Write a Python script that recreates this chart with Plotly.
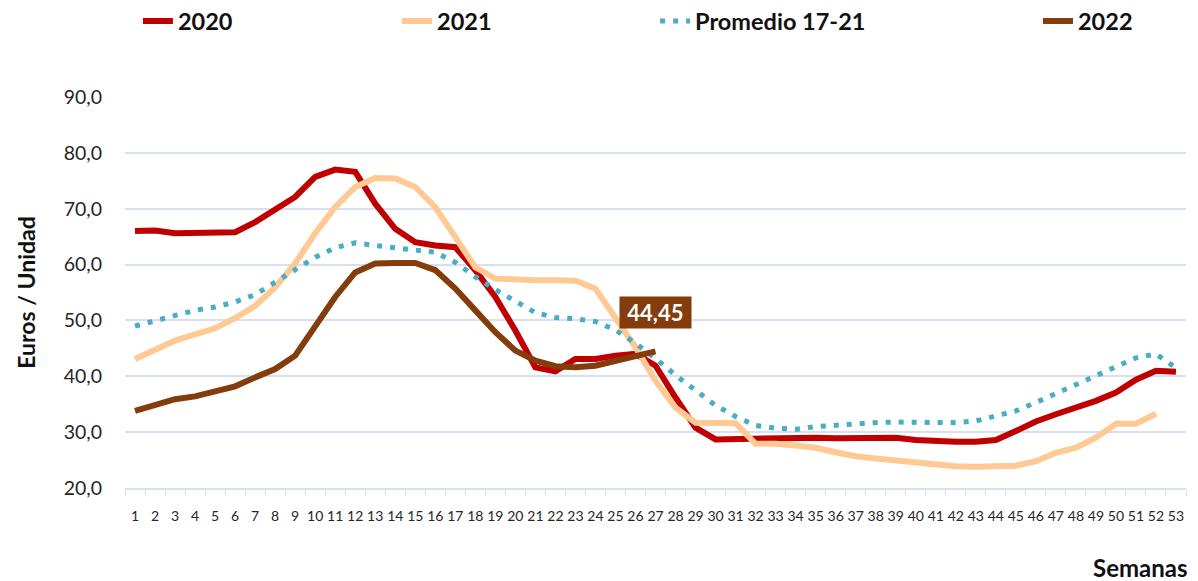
import plotly.graph_objects as go

semanas = [str(i) for i in range(1, 54)]

precio_2020 = [66.0, 66.1, 65.6, 65.7, 65.7, 65.8, 67.6, 70.0, 72.1, 75.7,
               77.0, 76.6, 70.9, 66.4, 64.0, 63.4, 63.1, 59.0, 54.2, 48.2,
               41.6, 40.9, 43.1, 43.1, 43.7, 44.0, 41.9, 36.2, 30.8, 28.7,
               28.8, 28.9, 29.0, 29.0, 29.0, 28.9, 28.9, 29.0, 29.0, 28.6,
               28.4, 28.3, 28.3, 28.6, 30.2, 31.9, 33.2, 34.4, 35.6, 37.1,
               39.4, 41.0, 40.8]

precio_2021 = [43.1, 44.7, 46.4, 47.5, 48.6, 50.4, 52.6, 55.9, 60.2, 65.6,
               70.3, 73.9, 75.5, 75.4, 73.9, 70.3, 65.0, 59.5, 57.5, 57.3,
               57.2, 57.2, 57.1, 55.7, 50.6, 45.2, 39.2, 34.4, 31.7, 31.6,
               31.6, 27.9, 27.9, 27.6, 27.2, 26.4, 25.7, 25.3, 24.9, 24.7,
               24.3, 23.9, 23.8, 23.8, 24.0, 24.8, 26.3, 27.2, 29.0, 31.5,
               31.5, 33.3, None]

promedio_17_21 = [49.0, 50.0, 50.9, 51.8, 52.4, 53.3, 54.6, 56.8, 59.0, 61.3,
                  63.0, 63.9, 63.4, 63.0, 62.8, 62.2, 60.4, 57.8, 55.5, 53.4,
                  51.4, 50.5, 50.3, 49.8, 48.3, 45.9, 43.2, 40.2, 37.4, 34.8,
                  32.8, 31.2, 30.7, 30.5, 31.0, 31.3, 31.6, 31.7, 31.8, 31.8,
                  31.8, 31.7, 32.0, 32.8, 33.8, 35.3, 36.9, 38.4, 40.0, 41.7,
                  43.3, 44.0, 41.5]

precio_2022 = [33.8, 34.8, 35.9, 36.4, 37.2, 38.2, 39.8, 41.3, 43.7, 48.8,
               54.2, 58.6, 60.2, 60.3, 60.3, 59.0, 55.7, 51.8, 47.9, 44.6,
               42.8, 41.8, 41.6, 41.9, 42.8, 43.7, 44.45]

ultimo_valor = "44,45"

FONT = "Lato"
GRID = "#D6E0F0"
NEGRO = "#111111"

fig = go.Figure()

fig.add_trace(go.Scatter(x=semanas, y=precio_2020, mode='lines', name='2020',
                         line=dict(color='#C00000', width=6), legend='legend'))
fig.add_trace(go.Scatter(x=semanas, y=precio_2021, mode='lines', name='2021',
                         line=dict(color='#FFC993', width=6), legend='legend2'))
fig.add_trace(go.Scatter(x=semanas, y=promedio_17_21, mode='lines', name='Promedio 17-21',
                         line=dict(color='#4BACC6', width=5, dash='5px,8px'), legend='legend3'))
fig.add_trace(go.Scatter(x=semanas[:len(precio_2022)], y=precio_2022, mode='lines', name='2022',
                         line=dict(color='#843C0C', width=6), legend='legend4'))

# etiqueta del ultimo dato de 2022 (x como indice de categoria)
fig.add_annotation(x=len(precio_2022) - 1, y=precio_2022[-1],
                   text=f"<b>\u00a0{ultimo_valor}\u00a0</b>", xanchor='center', yanchor='middle',
                   showarrow=False, yshift=39, bgcolor='#843C0C', borderpad=2,
                   font=dict(family=FONT, size=22, color='white'))

fig.add_annotation(xref='paper', yref='paper', x=-0.094, xanchor='center', y=0.5, yanchor='middle',
                   text="<b>Euros / Unidad</b>", textangle=-90, showarrow=False,
                   font=dict(family=FONT, size=23, color=NEGRO))
fig.add_annotation(xref='paper', yref='paper', x=1.004, xanchor='right', y=-0.203, yanchor='middle',
                   text="<b>Semanas</b>", showarrow=False, font=dict(family=FONT, size=24, color=NEGRO))
fig.add_annotation(xref='paper', yref='paper', x=-0.097, xanchor='left', y=-0.221, yanchor='top',
                   text="<i>Fuente: S. G. Estadística</i>", showarrow=False,
                   font=dict(family=FONT, size=19, color=NEGRO))

leg = dict(orientation='h', yanchor='middle', y=1.194, xanchor='left', bgcolor='rgba(0,0,0,0)',
           font=dict(family=FONT, size=23.5, color=NEGRO, weight='bold'))

# page body has an 8px margin, so the figure is drawn 8px smaller
fig.update_layout(
    width=1190, height=573,
    margin=dict(l=117, r=12, t=89, b=93, autoexpand=False),
    paper_bgcolor='white', plot_bgcolor='white',
    separators=',.',
    font=dict(family=FONT, color='#262626'),
    showlegend=True,
    legend=dict(leg, x=0.0122),
    legend2=dict(leg, x=0.2564),
    legend3=dict(leg, x=0.4996),
    legend4=dict(leg, x=0.8605),
    xaxis=dict(type='category', range=[-0.5, 52.5], showgrid=False, automargin=False,
               showline=True, linecolor=GRID, linewidth=2, tickangle=0,
               ticks='outside', ticklen=6, tickcolor=GRID, tickson='boundaries',
               tickfont=dict(family=FONT, size=14, color='#262626'), ticklabelstandoff=14),
    yaxis=dict(range=[20, 90], dtick=10, tickformat='.1f', showgrid=True, gridcolor=GRID,
               gridwidth=1.5, zeroline=False, showline=False, automargin=False,
               tickfont=dict(family=FONT, size=19.5, color='#262626'), ticklabelstandoff=22),
)

fig.write_html("out.html")
